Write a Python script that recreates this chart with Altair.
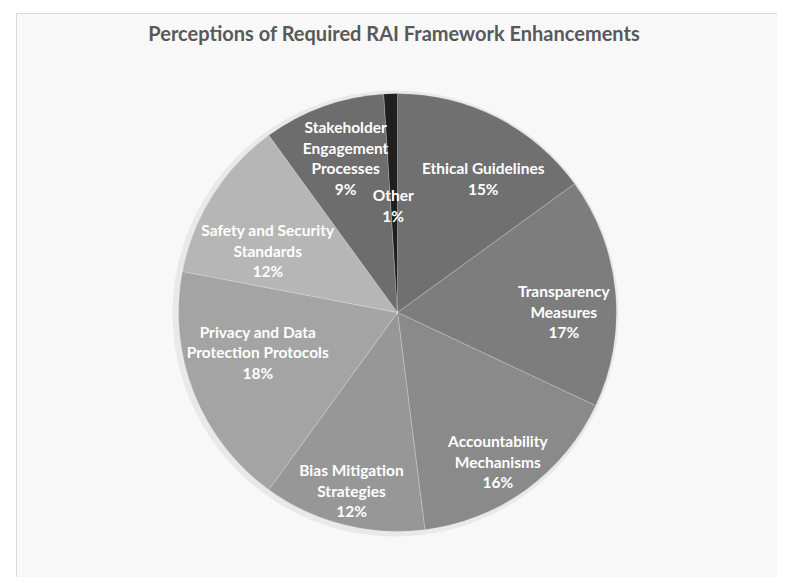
import altair as alt
import pandas as pd
import math

categories = [
    "Ethical Guidelines",
    "Transparency Measures",
    "Accountability Mechanisms",
    "Bias Mitigation Strategies",
    "Privacy and Data Protection Protocols",
    "Safety and Security Standards",
    "Stakeholder Engagement Processes",
    "Other",
]
values = [15, 17, 16, 12, 18, 12, 9, 1]
label_lines = [
    ["Ethical Guidelines"],
    ["Transparency", "Measures"],
    ["Accountability", "Mechanisms"],
    ["Bias Mitigation", "Strategies"],
    ["Privacy and Data", "Protection Protocols"],
    ["Safety and Security", "Standards"],
    ["Stakeholder", "Engagement", "Processes"],
    ["Other"],
]
grays = ["#707070", "#7d7d7d", "#8a8a8a", "#979797", "#a4a4a4", "#b6b6b6", "#6d6d6d", "#1f1f1f"]
title_text = "Perceptions of Required RAI Framework Enhancements"

df = pd.DataFrame({
    "idx": list(range(len(categories))),
    "cat": categories,
    "value": values,
    "label": ["\n".join(l + [f"{v}%"]) for l, v in zip(label_lines, values)],
})

CX, CY, R = 381.5, 299.5, 219
LH = 20.5
TOTAL = sum(values)

# label placement (like Excel's "best fit" data labels)
label_radius = [158, 166, 181, 185, 146, 143, 162, 106]
label_dx = [14, 1, -6, 0, -4, -9, 3, -1]
label_dy = [8, 16, 4, 0, -13, 16, -1, 0]

pie_base = alt.Chart(df).encode(
    theta=alt.Theta("value:Q", stack=True),
    order=alt.Order("idx:Q", sort="ascending"),
    x=alt.value(CX),
    y=alt.value(CY),
)

shadow = alt.Chart(pd.DataFrame({"v": [1]})).mark_arc(
    radius=R + 4, fill="#000000", opacity=0.06
).encode(theta=alt.Theta("v:Q"), x=alt.value(CX - 2), y=alt.value(CY + 1))

pie = pie_base.mark_arc(radius=R, stroke="#ffffff", strokeWidth=0.6, strokeOpacity=0.35).encode(
    color=alt.Color("cat:N", scale=alt.Scale(domain=categories, range=grays), legend=None)
)

text_style = dict(font="Lato", fontSize=15.5, fontWeight="bold", color="#ffffff",
                  lineBreak="\n", lineHeight=LH, align="center", baseline="middle")

label_base = alt.Chart(df).transform_window(
    cum="sum(value)", sort=[alt.SortField("idx", order="ascending")],
    frame=[None, 0],
).transform_calculate(mid="datum.cum - datum.value / 2")

labels = []
for i, cat in enumerate(categories):
    nlines = len(label_lines[i]) + 1
    labels.append(
        label_base.transform_filter(alt.datum.cat == cat).mark_text(
            radius=label_radius[i],
            dy=-(nlines - 1) * LH / 2 + label_dy[i],
            dx=label_dx[i],
            **text_style,
        ).encode(
            theta=alt.Theta("mid:Q", scale=alt.Scale(domain=[0, TOTAL], range=[0, 2 * math.pi])),
            text="label:N",
            x=alt.value(CX),
            y=alt.value(CY),
        )
    )

title = alt.Chart(pd.DataFrame({"t": [title_text]})).mark_text(
    font="Lato", fontSize=20, fontWeight="bold", color="#595959", align="center", baseline="middle"
).encode(text="t:N", x=alt.value(378), y=alt.value(22))

chart = alt.layer(shadow, pie, *labels, title).resolve_scale(theta="independent").properties(
    width=761, height=564, autosize="none",
    padding={"left": 8, "top": 5, "right": 0, "bottom": 0},
).configure_view(stroke="#d9d9d9", strokeWidth=1, fill="#f8f8f8")

chart.save("out.html", embed_options={"renderer": "svg", "actions": False})
